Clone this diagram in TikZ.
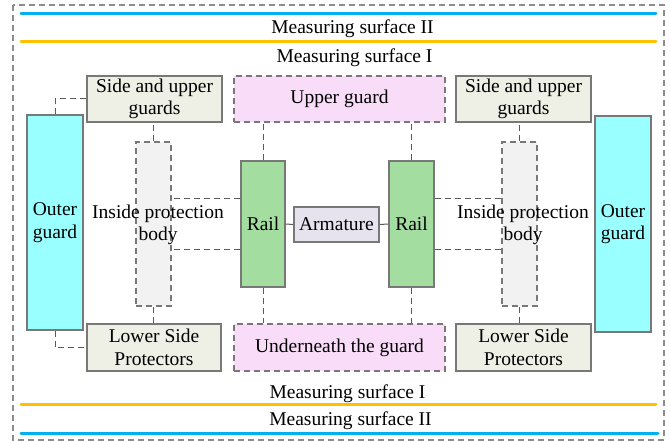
\documentclass[tikz,border=0pt]{standalone}
\usepackage{fontspec}
\setmainfont{Liberation Serif}
\definecolor{lineblue}{RGB}{0,176,240}
\definecolor{lineorange}{RGB}{255,192,0}
\definecolor{guardfill}{RGB}{238,240,230}
\definecolor{pinkfill}{RGB}{249,220,248}
\definecolor{cyanfill}{RGB}{153,255,255}
\definecolor{bodyfill}{RGB}{242,242,242}
\definecolor{railfill}{RGB}{163,221,160}
\definecolor{armfill}{RGB}{230,226,238}
\definecolor{edgegray}{RGB}{120,120,120}
\definecolor{conngray}{RGB}{90,90,90}
\begin{document}
\begin{tikzpicture}[x=1pt,y=-1pt,
  every node/.style={font=\fontsize{19.5}{22.5}\selectfont, align=center, inner sep=0pt},
  box/.style={draw=edgegray, line width=1.1pt, minimum width=#1},
  dbox/.style={draw=edgegray, line width=1.1pt, dash pattern=on 6pt off 4pt, minimum width=#1},
  conn/.style={draw=conngray, line width=1pt, dash pattern=on 6pt off 4pt},
  solidconn/.style={draw=conngray, line width=1pt},
  surface/.style={line width=3pt, line cap=round},
  surfacetext/.style={anchor=base}]
\useasboundingbox (0,0) rectangle (670,441);

% outer frame
\draw[draw=edgegray!85, line width=1.4pt, dash pattern=on 6pt off 4pt] (13,5) rectangle (664,440);

% measuring surfaces
\draw[surface, lineblue]   (21,14)  -- (656,14);
\draw[surface, lineorange] (21,42)  -- (656,42);
\draw[surface, lineorange] (21,404) -- (656,404);
\draw[surface, lineblue]   (21,433) -- (658,433);
\node[surfacetext] (msIIt) at (352.5,34)  {Measuring surface II};
\node[surfacetext] (msIt)  at (354.5,62.5) {Measuring surface I};
\node[surfacetext] (msIb)  at (347.5,398) {Measuring surface I};
\node[surfacetext] (msIIb) at (350.5,425.5) {Measuring surface II};

% guards
\node[box=135pt, minimum height=46pt, fill=guardfill] (sideL) at (154.5,99) {Side and upper\\guards};
\node[box=135pt, minimum height=46pt, fill=guardfill] (sideR) at (523.5,99) {Side and upper\\guards};
\node[dbox=211pt, minimum height=46pt, fill=pinkfill] (upper) at (339.5,99) {Upper guard};
\node[box=134pt, minimum height=47pt, fill=guardfill] (lowL) at (154,347.5) {Lower Side\\Protectors};
\node[box=135pt, minimum height=47pt, fill=guardfill] (lowR) at (523.5,347.5) {Lower Side\\Protectors};
\node[dbox=211pt, minimum height=47pt, fill=pinkfill] (under) at (339.5,347.5) {Underneath the guard};

\node[box=56pt, minimum height=215pt, fill=cyanfill] (outL) at (55,222.5) {Outer\\guard};
\node[box=56pt, minimum height=216pt, fill=cyanfill] (outR) at (623,224) {Outer\\guard};

\node[dbox=35pt, minimum height=164pt, fill=bodyfill] (bodyL) at (153.5,224) {};
\node[dbox=35pt, minimum height=164pt, fill=bodyfill] (bodyR) at (519.5,224) {};

\node[box=44pt, minimum height=126pt, fill=railfill] (railL) at (263,224) {Rail};
\node[box=45pt, minimum height=126pt, fill=railfill] (railR) at (411.5,224) {Rail};
\node[box=85pt, minimum height=35pt, fill=armfill] (arm) at (336.5,224.5) {Armature};

% connectors
\draw[conn] (outL.north) |- (sideL.west);
\draw[conn] (outL.south) |- (lowL.west);
\draw[conn] (bodyL.north) -- (bodyL.north |- sideL.south);
\draw[conn] (bodyL.south) -- (bodyL.south |- lowL.north);
\draw[conn] (bodyR.north) -- (bodyR.north |- sideR.south);
\draw[conn] (bodyR.south) -- (bodyR.south |- lowR.north);
\draw[conn] (railL.north) -- (railL.north |- upper.south);
\draw[conn] (railL.south) -- (railL.south |- under.north);
\draw[conn] (railR.north) -- (railR.north |- upper.south);
\draw[conn] (railR.south) -- (railR.south |- under.north);
\draw[conn] ([yshift=25pt]railL.west) -- ([yshift=25pt]railL.west -| bodyL.east);
\draw[conn] ([yshift=-25pt]railL.west) -- ([yshift=-25pt]railL.west -| bodyL.east);
\draw[conn] ([yshift=25pt]railR.east) -- ([yshift=25pt]railR.east -| bodyR.west);
\draw[conn] ([yshift=-25pt]railR.east) -- ([yshift=-25pt]railR.east -| bodyR.west);
\draw[solidconn] (railL.east) -- (arm.west);
\draw[solidconn] (arm.east) -- (railR.west);

% body labels drawn over the dashed bodies
\node (bodyLtxt) at (158,225) {Inside protection\\body};
\node (bodyRtxt) at (523,225) {Inside protection\\body};
\end{tikzpicture}
\end{document}
